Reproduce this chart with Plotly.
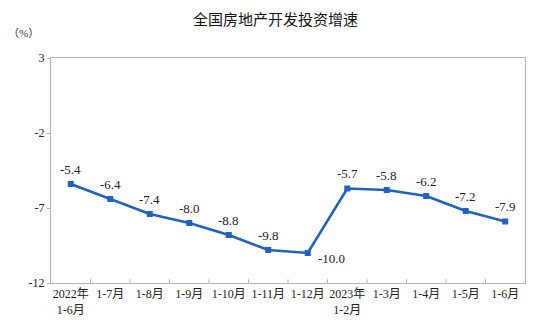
import plotly.graph_objects as go

# 全国房地产开发投资累计增速（%）
categories = ["2022年<br>1-6月", "1-7月", "1-8月", "1-9月", "1-10月", "1-11月", "1-12月",
              "2023年<br>1-2月", "1-3月", "1-4月", "1-5月", "1-6月"]
growth = [-5.4, -6.4, -7.4, -8.0, -8.8, -9.8, -10.0, -5.7, -5.8, -6.2, -7.2, -7.9]
y_ticks = [3, -2, -7, -12]
y_tick_text = ["3", "-2", "-7", "-12"]

LINE = "#1f62c0"
AXIS = "#b4b4b4"
SERIF = "'Liberation Serif', 'Noto Sans CJK SC', serif"

fig = go.Figure()
fig.add_trace(go.Scatter(
    x=list(range(len(categories))), y=growth, mode="lines+markers",
    line=dict(color=LINE, width=2.6),
    marker=dict(symbol="square", size=6, color=LINE),
    hoverinfo="skip",
))

# value labels: above each point, except the trough which sits below-right
for i, v in enumerate(growth):
    if v == min(growth):
        fig.add_annotation(x=i, y=v, text=f"{v:.1f}", showarrow=False,
                           xanchor="center", yanchor="middle", xshift=24, yshift=-5,
                           font=dict(family=SERIF, size=13, color="#222"))
    else:
        fig.add_annotation(x=i, y=v, text=f"{v:.1f}", showarrow=False,
                           xanchor="center", yanchor="middle", yshift=15,
                           font=dict(family=SERIF, size=13, color="#222"))

fig.update_layout(
    width=551, height=333,
    margin=dict(l=51, r=26, t=58, b=50),
    paper_bgcolor="white", plot_bgcolor="white",
    showlegend=False,
    title=dict(text="全国房地产开发投资增速", x=0.5, xanchor="center", y=0.94, yanchor="middle",
               font=dict(family="Noto Sans CJK SC", size=15, color="#111")),
)
fig.add_annotation(text="（%）", xref="paper", yref="paper", x=-0.095, y=1.11,
                   xanchor="left", yanchor="middle", showarrow=False,
                   font=dict(family=SERIF, size=11, color="#333"))

fig.update_xaxes(
    range=[-0.5, len(categories) - 0.5],
    tickmode="array", tickvals=list(range(len(categories))), ticktext=categories,
    tickangle=0,
    showline=True, linecolor=AXIS, linewidth=1, mirror=True,
    showgrid=False, zeroline=False,
    ticks="", tickfont=dict(family=SERIF, size=12, color="#222"),
)
fig.update_yaxes(
    range=[-12, 3], tickmode="array", tickvals=y_ticks, ticktext=y_tick_text,
    showline=True, linecolor=AXIS, linewidth=1, mirror=True,
    showgrid=False, zeroline=False,
    ticks="outside", ticklen=3, tickcolor=AXIS,
    tickfont=dict(family=SERIF, size=12, color="#222"),
)

# small category-boundary ticks on the bottom axis
for b in range(1, len(categories)):
    fig.add_shape(type="line", xref="x", yref="y", x0=b - 0.5, x1=b - 0.5,
                  y0=-12, y1=-11.75, line=dict(color=AXIS, width=1))

fig.write_html("out.html")
